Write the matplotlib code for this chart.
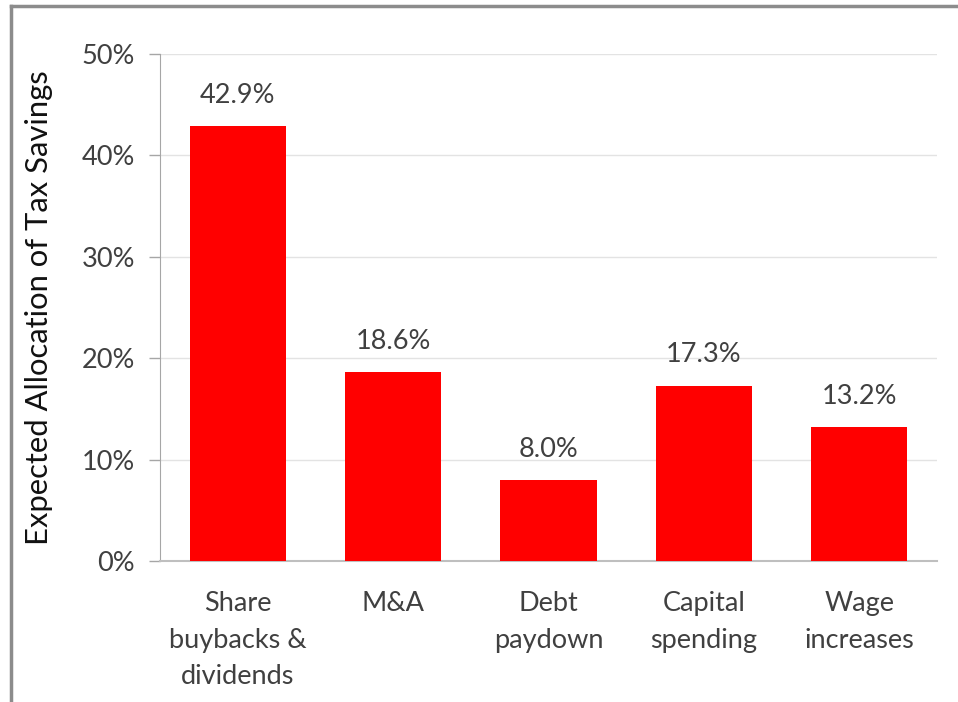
import matplotlib
matplotlib.use('Agg')
import matplotlib.pyplot as plt
from matplotlib.ticker import PercentFormatter

categories = ["Share\nbuybacks &\ndividends", "M&A", "Debt\npaydown", "Capital\nspending", "Wage\nincreases"]
shares = [42.9, 18.6, 8.0, 17.3, 13.2]
y_ticks = [0, 10, 20, 30, 40, 50]

plt.rcParams['font.family'] = ['Lato', 'DejaVu Sans']
text_color = '#404040'

fig = plt.figure(figsize=(9.58, 7.02), dpi=100)
ax = fig.add_axes([0.167, 0.201, 0.811, 0.722])

x = range(len(categories))
bars = ax.bar(x, shares, width=0.62, color='#ff0000', zorder=3)
for b, v in zip(bars, shares):
    ax.annotate(f"{v:.1f}%", (b.get_x() + b.get_width() / 2, v),
                xytext=(0, 13), textcoords='offset points',
                ha='center', va='bottom', fontsize=19.5, color=text_color)

ax.set_xlim(-0.5, len(categories) - 0.5)
ax.set_ylim(0, 50)
ax.set_yticks(y_ticks)
ax.yaxis.set_major_formatter(PercentFormatter(decimals=0))
ax.set_xticks(list(x))
ax.set_xticklabels(categories, linespacing=1.56)
ax.tick_params(axis='x', length=0, pad=22, labelsize=19.5, colors=text_color)
ax.tick_params(axis='y', length=8, width=1, color='#a6a6a6', pad=10,
               labelsize=19.5, labelcolor=text_color)
ax.grid(axis='y', color='#e3e3e3', linewidth=1, zorder=0)

for side in ['top', 'right']:
    ax.spines[side].set_visible(False)
ax.spines['left'].set_color('#a6a6a6')
ax.spines['bottom'].set_color('#bfbfbf')
ax.spines['bottom'].set_linewidth(1.5)

ax.set_ylabel("Expected Allocation of Tax Savings", fontsize=22.3, color='#111111')
ax.yaxis.set_label_coords(-0.138, 0.5)

# frame around the chart area (only left and top edges fall inside the image)
fig.add_artist(plt.Line2D([0.0115, 0.0115], [0, 0.991], color='#8c8c8c', linewidth=2.5, transform=fig.transFigure))
fig.add_artist(plt.Line2D([0.0115, 1.0], [0.991, 0.991], color='#8c8c8c', linewidth=2.5, transform=fig.transFigure))

fig.savefig("out.png", dpi=100)
